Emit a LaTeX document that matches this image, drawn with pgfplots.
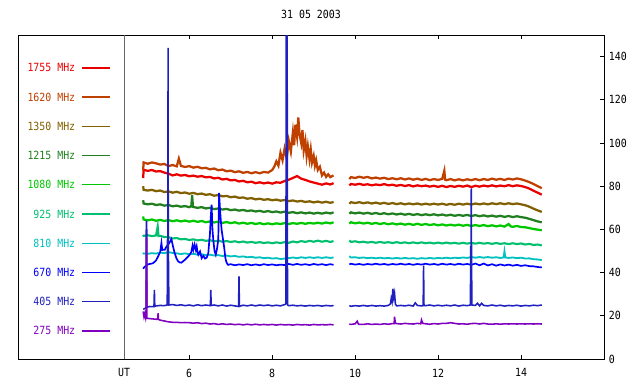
\documentclass[border=0pt]{standalone}
\usepackage{pgfplots}
\pgfplotsset{compat=1.18}
\usepackage{fontspec}
\setmainfont[FakeStretch=0.88]{DejaVu Sans Mono}
\definecolor{cA}{RGB}{235,0,0}
\definecolor{cB}{RGB}{192,64,0}
\definecolor{cC}{RGB}{128,96,0}
\definecolor{cD}{RGB}{32,128,32}
\definecolor{cE}{RGB}{0,200,0}
\definecolor{cF}{RGB}{0,192,112}
\definecolor{cG}{RGB}{0,192,192}
\definecolor{cH}{RGB}{0,0,255}
\definecolor{cI}{RGB}{32,32,192}
\definecolor{cJ}{RGB}{128,0,192}
\begin{document}
\begin{tikzpicture}
\useasboundingbox (0,0) rectangle (16cm,9.6cm);
\begin{axis}[
  at={(0.45cm,0.625cm)}, anchor=south west,
  width=14.65cm, height=8.1cm, scale only axis,
  xmin=1.872, xmax=16, ymin=0, ymax=150,
  unbounded coords=jump,
  font=\fontsize{8}{9}\selectfont,
  title={31 05 2003},
  title style={anchor=center, yshift=0.3cm, font=\fontsize{8}{9}\selectfont},
  xtick={6,8,10,12,14}, xticklabels={6,8,10,12,14},
  extra x ticks={4.43}, extra x tick labels={UT},
  extra x tick style={grid=major, major grid style={draw=black!60, line width=0.7pt}, major tick length=0pt},
  xticklabel style={yshift=-0.12cm},
  ytick={0,20,40,60,80,100,120,140},
  ytick pos=right, yticklabel pos=right,
  /pgf/number format/assume math mode=true,
  tick align=inside, major tick length=0.11cm,
  every tick/.style={black, line width=0.7pt},
  axis line style={line width=0.7pt},
  tick label style={font=\fontsize{8}{9}\selectfont},
  legend style={at={(axis cs:4.106,137.5)}, anchor=north east, draw=none, fill=none,
    inner sep=0pt, outer sep=0pt, row sep=0.397cm, column sep=0.12cm,
    nodes={inner sep=1pt, text height=6pt, text depth=1.5pt, font=\fontsize{8}{9}\selectfont}},
  legend plot pos=right, legend cell align=right,
  legend image code/.code={\draw[#1, line width=0.9pt] (0cm,0.02cm) -- (0.7cm,0.02cm);},
]
% 1755 MHz
\addplot[cA, line width=1.6pt] coordinates {
(4.89,83.8)(4.9,87.6)(5.0,87.1)(5.1,87.5)(5.2,86.8)(5.3,87.0)(5.4,86.3)(5.5,85.8)(5.6,85.0)(5.7,85.5)(5.8,84.9)(5.9,85.2)(6.0,84.6)(6.1,84.9)(6.2,84.4)(6.3,84.7)(6.4,84.1)(6.5,84.3)(6.6,83.6)(6.7,83.9)(6.8,83.1)(6.9,83.4)(7.0,82.7)(7.1,82.9)(7.2,82.2)(7.3,82.5)(7.4,81.8)(7.5,82.1)(7.6,81.4)(7.7,81.8)(7.8,81.3)(7.9,81.7)(8.0,81.2)(8.1,81.8)(8.2,81.6)(8.3,82.4)(8.4,83.0)(8.5,83.8)(8.6,84.7)(8.7,83.5)(8.8,82.9)(8.9,82.2)(9.0,81.7)(9.1,81.2)(9.2,80.7)(9.3,81.3)(9.4,80.8)(9.48,81.4)
(9.65,nan)
(9.86,80.4)(9.9,81.0)(10.0,80.7)(10.1,81.1)(10.2,80.6)(10.3,80.9)(10.4,80.4)(10.5,80.8)(10.6,80.5)(10.7,81.0)(10.8,80.4)(10.9,80.7)(11.0,80.2)(11.1,80.6)(11.2,80.1)(11.3,80.5)(11.4,79.9)(11.5,80.4)(11.6,80.0)(11.7,80.3)(11.8,79.8)(11.9,80.2)(12.0,79.7)(12.1,80.2)(12.2,79.6)(12.3,80.1)(12.4,79.7)(12.5,80.2)(12.6,79.8)(12.7,80.3)(12.8,79.6)(12.9,80.2)(13.0,79.8)(13.1,80.3)(13.2,79.9)(13.3,80.4)(13.4,79.9)(13.5,80.3)(13.6,80.0)(13.7,80.5)(13.8,80.0)(13.9,80.4)(14.0,80.1)(14.1,79.6)(14.2,78.9)(14.3,77.9)(14.4,77.0)(14.5,76.1)
};
\addlegendentry{\textcolor{cA}{1755 MHz}}
% 1620 MHz
\addplot[cB, line width=1.6pt] coordinates {
(4.89,87.5)(4.9,91.0)(5.0,90.4)(5.1,91.0)(5.2,90.6)(5.3,90.0)(5.4,90.3)(5.5,89.3)(5.6,89.8)(5.7,89.2)(5.75,92.8)(5.8,89.4)(5.9,88.9)(6.0,89.3)(6.1,88.6)(6.2,89.0)(6.3,88.3)(6.4,88.5)(6.5,87.8)(6.6,88.2)(6.7,87.4)(6.8,87.7)(6.9,86.9)(7.0,87.2)(7.1,86.5)(7.2,86.9)(7.3,86.2)(7.4,86.6)(7.5,86.0)(7.6,86.5)(7.7,86.0)(7.8,86.6)(7.9,86.3)(8.0,87.5)(8.05,89.0)(8.1,91.5)(8.15,89.5)(8.2,95.5)(8.25,92.0)(8.3,97.5)(8.35,93.0)(8.4,101.0)(8.45,96.0)(8.5,105.0)(8.53,99.0)(8.56,108.5)(8.6,103.0)(8.63,111.8)(8.66,104.0)(8.7,100.0)(8.73,106.0)(8.76,96.5)(8.8,101.0)(8.83,94.0)(8.86,98.5)(8.9,92.5)(8.93,97.0)(8.96,91.0)(9.0,94.0)(9.03,89.5)(9.06,92.0)(9.1,87.5)(9.15,89.0)(9.2,85.0)(9.25,86.3)(9.3,84.3)(9.35,85.5)(9.4,84.2)(9.48,85.0)
(9.65,nan)
(9.86,83.3)(9.9,84.2)(10.0,83.8)(10.1,84.4)(10.2,83.9)(10.3,84.3)(10.4,83.6)(10.5,84.0)(10.6,83.5)(10.7,83.9)(10.8,83.3)(10.9,83.7)(11.0,83.2)(11.1,83.7)(11.2,83.1)(11.3,83.6)(11.4,83.0)(11.5,83.5)(11.6,82.9)(11.7,83.4)(11.8,82.8)(11.9,83.3)(12.0,82.9)(12.1,83.4)(12.15,87.2)(12.17,83.0)(12.2,82.8)(12.3,83.3)(12.4,82.7)(12.5,83.2)(12.6,82.7)(12.7,83.2)(12.8,82.8)(12.9,83.3)(13.0,82.8)(13.1,83.3)(13.2,82.9)(13.3,83.5)(13.4,83.0)(13.5,83.4)(13.6,82.9)(13.7,83.5)(13.8,83.1)(13.9,83.6)(14.0,83.2)(14.1,82.6)(14.2,81.9)(14.3,81.0)(14.4,80.0)(14.5,79.1)
};
\addlegendentry{\textcolor{cB}{1620 MHz}}
% 1350 MHz
\addplot[cC, line width=1.6pt] coordinates {
(4.89,80.0)(4.9,78.3)(5.0,78.0)(5.1,78.3)(5.2,77.7)(5.3,78.0)(5.4,77.3)(5.5,77.6)(5.6,77.0)(5.7,77.4)(5.8,76.8)(5.9,77.1)(6.0,76.5)(6.1,76.9)(6.2,76.3)(6.3,76.6)(6.4,76.0)(6.5,76.3)(6.6,75.6)(6.7,75.9)(6.8,75.3)(6.9,75.5)(7.0,74.9)(7.1,75.2)(7.2,74.6)(7.3,74.8)(7.4,74.2)(7.5,74.5)(7.6,73.9)(7.7,74.2)(7.8,73.7)(7.9,74.0)(8.0,73.5)(8.1,73.8)(8.2,73.3)(8.3,73.6)(8.4,73.1)(8.5,73.4)(8.6,72.9)(8.7,73.2)(8.8,72.7)(8.9,73.0)(9.0,72.5)(9.1,72.9)(9.2,72.4)(9.3,72.8)(9.4,72.3)(9.48,72.7)
(9.65,nan)
(9.86,71.9)(9.9,72.6)(10.0,72.2)(10.1,72.6)(10.2,72.1)(10.3,72.5)(10.4,72.0)(10.5,72.4)(10.6,71.9)(10.7,72.3)(10.8,71.8)(10.9,72.2)(11.0,71.7)(11.1,72.1)(11.2,71.6)(11.3,72.0)(11.4,71.6)(11.5,72.0)(11.6,71.5)(11.7,71.9)(11.8,71.5)(11.9,71.9)(12.0,71.5)(12.1,71.9)(12.2,71.4)(12.3,71.8)(12.4,71.4)(12.5,71.9)(12.6,71.5)(12.7,71.9)(12.8,71.5)(12.9,72.0)(13.0,71.6)(13.1,72.0)(13.2,71.6)(13.3,72.1)(13.4,71.7)(13.5,72.1)(13.6,71.7)(13.7,72.1)(13.8,71.7)(13.9,72.0)(14.0,71.6)(14.1,71.2)(14.2,70.5)(14.3,69.6)(14.4,68.8)(14.5,68.1)
};
\addlegendentry{\textcolor{cC}{1350 MHz}}
% 1215 MHz
\addplot[cD, line width=1.6pt] coordinates {
(4.89,73.5)(4.9,72.0)(5.0,71.6)(5.1,71.9)(5.2,71.3)(5.3,71.6)(5.4,71.0)(5.5,71.3)(5.6,70.7)(5.7,71.0)(5.8,70.5)(5.9,70.8)(6.0,70.3)(6.05,70.7)(6.07,75.8)(6.09,70.4)(6.2,70.0)(6.3,70.3)(6.4,69.7)(6.5,70.0)(6.6,69.4)(6.7,69.7)(6.8,69.2)(6.9,69.5)(7.0,68.9)(7.1,69.2)(7.2,68.7)(7.3,69.0)(7.4,68.5)(7.5,68.8)(7.6,68.3)(7.7,68.6)(7.8,68.1)(7.9,68.5)(8.0,68.0)(8.1,68.3)(8.2,67.8)(8.3,68.2)(8.4,67.7)(8.5,68.0)(8.6,67.5)(8.7,67.9)(8.8,67.4)(8.9,67.8)(9.0,67.3)(9.1,67.7)(9.2,67.3)(9.3,67.8)(9.4,67.4)(9.48,67.9)
(9.65,nan)
(9.86,67.3)(9.9,67.9)(10.0,67.4)(10.1,67.8)(10.2,67.3)(10.3,67.7)(10.4,67.2)(10.5,67.6)(10.6,67.1)(10.7,67.5)(10.8,67.0)(10.9,67.4)(11.0,66.9)(11.1,67.3)(11.2,66.8)(11.3,67.2)(11.4,66.7)(11.5,67.1)(11.6,66.6)(11.7,67.0)(11.8,66.6)(11.9,67.0)(12.0,66.5)(12.1,66.9)(12.2,66.4)(12.3,66.8)(12.4,66.3)(12.5,66.7)(12.6,66.3)(12.7,66.7)(12.8,66.2)(12.9,66.6)(13.0,66.1)(13.1,66.5)(13.2,66.0)(13.3,66.4)(13.4,65.9)(13.5,66.3)(13.6,65.8)(13.7,66.2)(13.8,65.7)(13.9,66.1)(14.0,65.7)(14.1,65.4)(14.2,64.9)(14.3,64.3)(14.4,63.7)(14.5,63.3)
};
\addlegendentry{\textcolor{cD}{1215 MHz}}
% 1080 MHz
\addplot[cE, line width=1.6pt] coordinates {
(4.89,66.0)(4.9,64.6)(5.0,64.2)(5.1,64.6)(5.2,64.0)(5.3,64.4)(5.4,63.9)(5.5,64.3)(5.6,63.8)(5.7,64.2)(5.8,63.7)(5.9,64.1)(6.0,63.6)(6.1,64.0)(6.2,63.5)(6.3,63.9)(6.4,63.3)(6.5,63.7)(6.6,63.2)(6.7,63.6)(6.8,63.0)(6.9,63.4)(7.0,62.9)(7.1,63.3)(7.2,62.7)(7.3,63.1)(7.4,62.6)(7.5,63.0)(7.6,62.5)(7.7,62.9)(7.8,62.4)(7.9,62.8)(8.0,62.4)(8.1,62.8)(8.2,62.5)(8.3,62.9)(8.4,62.5)(8.5,62.9)(8.6,62.6)(8.7,63.0)(8.8,62.6)(8.9,63.0)(9.0,62.7)(9.1,63.1)(9.2,62.7)(9.3,63.2)(9.4,62.8)(9.48,63.3)
(9.65,nan)
(9.86,62.7)(9.9,63.3)(10.0,62.8)(10.1,63.2)(10.2,62.7)(10.3,63.1)(10.4,62.6)(10.5,63.0)(10.6,62.5)(10.7,62.9)(10.8,62.4)(10.9,62.8)(11.0,62.3)(11.1,62.7)(11.2,62.2)(11.3,62.6)(11.4,62.1)(11.5,62.6)(11.6,62.1)(11.7,62.5)(11.8,62.0)(11.9,62.4)(12.0,61.9)(12.1,62.3)(12.2,61.8)(12.3,62.2)(12.4,61.8)(12.5,62.2)(12.6,61.7)(12.7,62.1)(12.8,61.6)(12.9,62.0)(13.0,61.6)(13.1,62.0)(13.2,61.5)(13.3,61.9)(13.4,61.4)(13.5,61.8)(13.6,61.3)(13.7,62.5)(13.75,61.4)(13.8,61.2)(13.9,61.6)(14.0,61.1)(14.1,61.0)(14.2,60.6)(14.3,60.2)(14.4,59.9)(14.5,59.6)
};
\addlegendentry{\textcolor{cE}{1080 MHz}}
% 925 MHz
\addplot[cF, line width=1.5pt] coordinates {
(4.89,57.5)(4.9,57.0)(5.0,57.3)(5.1,56.9)(5.2,57.2)(5.24,61.3)(5.26,56.9)(5.3,57.0)(5.4,56.5)(5.5,56.4)(5.6,55.8)(5.7,56.0)(5.8,55.4)(5.9,55.6)(6.0,55.1)(6.1,55.4)(6.2,54.9)(6.3,55.2)(6.4,54.7)(6.5,55.0)(6.6,54.5)(6.7,54.8)(6.8,54.3)(6.9,54.6)(7.0,54.2)(7.1,54.5)(7.2,54.0)(7.3,54.4)(7.4,53.9)(7.5,54.2)(7.6,53.8)(7.7,54.1)(7.8,53.7)(7.9,54.0)(8.0,53.6)(8.1,54.0)(8.2,53.7)(8.3,54.1)(8.4,53.8)(8.5,54.4)(8.6,54.0)(8.7,54.6)(8.8,54.2)(8.9,54.7)(9.0,54.3)(9.1,54.8)(9.2,54.3)(9.3,54.7)(9.4,54.2)(9.48,54.6)
(9.65,nan)
(9.86,54.9)(9.9,54.2)(10.0,54.5)(10.1,54.0)(10.2,54.3)(10.3,53.9)(10.4,54.2)(10.5,53.8)(10.6,54.2)(10.7,53.8)(10.8,54.1)(10.9,53.7)(11.0,54.1)(11.1,53.7)(11.2,54.0)(11.3,53.6)(11.4,54.0)(11.5,53.6)(11.6,54.0)(11.7,53.6)(11.8,53.9)(11.9,53.5)(12.0,53.9)(12.1,53.5)(12.2,53.9)(12.3,53.5)(12.4,53.8)(12.5,53.4)(12.6,53.8)(12.7,53.4)(12.8,53.8)(12.9,53.4)(13.0,53.8)(13.1,53.4)(13.2,53.7)(13.3,53.3)(13.4,53.7)(13.5,53.3)(13.6,53.6)(13.7,53.2)(13.8,53.6)(13.9,53.2)(14.0,53.5)(14.1,53.0)(14.2,53.3)(14.3,52.8)(14.4,53.0)(14.5,52.6)
};
\addlegendentry{\textcolor{cF}{925 MHz}}
% 810 MHz
\addplot[cG, line width=1.3pt] coordinates {
(4.89,48.5)(4.9,48.9)(5.0,48.7)(5.1,49.0)(5.2,48.8)(5.3,49.3)(5.4,49.0)(5.5,49.5)(5.6,49.1)(5.7,48.9)(5.8,48.6)(5.9,48.9)(6.0,48.5)(6.1,48.7)(6.2,48.3)(6.3,48.5)(6.4,48.1)(6.5,48.3)(6.6,47.9)(6.7,48.1)(6.8,47.7)(6.9,47.9)(7.0,47.5)(7.1,47.7)(7.2,47.3)(7.3,47.5)(7.4,47.1)(7.5,47.3)(7.6,46.9)(7.7,47.1)(7.8,46.7)(7.9,46.9)(8.0,46.5)(8.1,46.7)(8.2,46.3)(8.3,46.5)(8.4,46.7)(8.5,47.0)(8.6,46.7)(8.7,47.1)(8.8,46.8)(8.9,47.1)(9.0,46.8)(9.1,47.1)(9.2,46.8)(9.3,47.1)(9.4,46.8)(9.48,47.0)
(9.65,nan)
(9.86,47.6)(9.9,47.0)(10.0,47.1)(10.1,46.8)(10.2,47.0)(10.3,46.7)(10.4,46.9)(10.5,46.6)(10.6,46.9)(10.7,46.6)(10.8,46.8)(10.9,46.5)(11.0,46.8)(11.1,46.5)(11.2,46.8)(11.3,46.5)(11.4,46.7)(11.5,46.4)(11.6,46.7)(11.7,46.5)(11.8,46.8)(11.9,46.5)(12.0,46.8)(12.1,46.6)(12.2,46.9)(12.3,46.6)(12.4,46.9)(12.5,46.7)(12.6,47.0)(12.7,46.8)(12.8,47.2)(12.9,46.9)(13.0,47.2)(13.1,46.9)(13.2,47.2)(13.3,46.9)(13.4,47.1)(13.5,46.8)(13.58,47.0)(13.6,49.8)(13.62,47.0)(13.7,46.8)(13.8,47.0)(13.9,46.7)(14.0,46.9)(14.1,46.5)(14.2,46.6)(14.3,46.2)(14.4,46.1)(14.5,45.8)
};
\addlegendentry{\textcolor{cG}{810 MHz}}
% 670 MHz
\addplot[cH, line width=1.2pt] coordinates {
(4.89,41.8)(4.92,42.6)(5.0,43.8)(5.1,44.2)(5.13,44.4)(5.2,45.6)(5.25,47.5)(5.3,49.5)(5.33,53.7)(5.35,50.5)(5.41,50.6)(5.45,52.0)(5.49,52.9)(5.53,54.0)(5.57,55.5)(5.61,52.1)(5.65,49.0)(5.69,46.7)(5.73,45.3)(5.77,44.7)(5.81,44.6)(5.85,45.2)(5.9,46.0)(5.95,47.0)(6.0,48.0)(6.05,49.5)(6.08,52.5)(6.1,50.6)(6.13,53.0)(6.16,50.5)(6.18,52.1)(6.2,49.5)(6.22,48.3)(6.26,49.8)(6.3,46.7)(6.34,47.8)(6.38,46.5)(6.42,46.9)(6.46,49.0)(6.48,53.7)(6.5,58.0)(6.52,66.0)(6.54,71.5)(6.56,60.0)(6.58,55.2)(6.61,50.0)(6.64,48.3)(6.67,51.0)(6.70,55.2)(6.71,65.0)(6.72,76.9)(6.74,70.0)(6.76,64.5)(6.78,60.0)(6.81,56.0)(6.84,52.1)(6.87,47.0)(6.89,45.2)(6.92,44.0)(6.94,43.6)(7.0,43.9)(7.1,43.4)(7.2,43.8)(7.3,43.5)(7.4,43.9)(7.5,43.4)(7.6,43.8)(7.7,43.4)(7.8,43.9)(7.9,43.5)(8.0,43.8)(8.1,43.4)(8.2,43.7)(8.3,43.5)(8.4,44.0)(8.5,43.6)(8.6,44.0)(8.7,43.6)(8.8,43.9)(8.9,43.5)(9.0,44.0)(9.1,43.6)(9.2,43.9)(9.3,43.5)(9.4,43.9)(9.48,43.6)
(9.65,nan)
(9.86,43.8)(9.9,44.1)(10.0,43.7)(10.1,44.0)(10.2,43.6)(10.3,44.0)(10.4,43.7)(10.5,44.1)(10.6,43.7)(10.7,44.0)(10.8,43.6)(10.9,44.0)(11.0,43.7)(11.1,44.1)(11.2,43.7)(11.3,44.0)(11.4,43.6)(11.5,44.0)(11.6,43.7)(11.7,44.1)(11.8,43.7)(11.9,44.0)(12.0,43.6)(12.1,44.1)(12.2,43.7)(12.3,44.0)(12.4,43.6)(12.5,44.1)(12.6,43.7)(12.7,44.0)(12.8,43.6)(12.9,44.2)(13.0,43.4)(13.1,44.2)(13.2,43.3)(13.3,43.9)(13.4,43.2)(13.5,43.8)(13.6,43.3)(13.7,43.7)(13.8,43.2)(13.9,43.6)(14.0,43.1)(14.1,43.4)(14.2,43.0)(14.3,42.9)(14.4,42.6)(14.5,42.4)
};
\addlegendentry{\textcolor{cH}{670 MHz}}
% 405 MHz
\addplot[cI, line width=1.1pt] coordinates {
(4.89,23.0)(4.93,23.4)(4.96,23.8)(4.965,63.7)(4.975,63.7)(4.98,24.0)(5.05,24.3)(5.15,24.2)(5.16,32.0)(5.17,24.5)(5.3,24.8)(5.4,24.7)(5.47,25.0)(5.475,55.0)(5.485,55.0)(5.49,144.0)(5.495,55.0)(5.51,25.0)(5.6,25.2)(5.7,24.8)(5.8,25.1)(5.9,24.7)(6.0,25.0)(6.1,24.6)(6.2,25.1)(6.3,24.7)(6.4,25.0)(6.51,24.7)(6.52,32.0)(6.53,24.8)(6.6,25.0)(6.7,24.6)(6.8,25.0)(6.9,24.5)(7.0,24.9)(7.1,24.6)(7.19,24.3)(7.20,38.2)(7.21,24.4)(7.3,24.9)(7.4,24.6)(7.5,25.0)(7.6,24.6)(7.7,25.0)(7.8,24.7)(7.9,25.0)(8.0,24.6)(8.1,24.9)(8.2,24.6)(8.3,25.2)(8.33,25.5)(8.34,160)(8.36,160)(8.37,25.0)(8.4,24.7)(8.5,24.9)(8.6,24.6)(8.7,24.8)(8.8,24.5)(8.9,24.8)(9.0,24.6)(9.1,24.8)(9.2,24.5)(9.3,24.8)(9.4,24.6)(9.48,24.7)
(9.65,nan)
(9.86,24.7)(9.9,24.4)(10.0,24.7)(10.1,24.5)(10.2,24.8)(10.3,24.5)(10.4,24.8)(10.5,24.5)(10.6,24.7)(10.7,24.5)(10.8,24.8)(10.85,25.5)(10.87,28.0)(10.89,26.5)(10.91,32.5)(10.93,28.5)(10.95,30.5)(10.97,25.5)(11.0,24.6)(11.1,24.8)(11.2,24.6)(11.3,24.9)(11.4,24.5)(11.45,26.0)(11.5,24.8)(11.6,24.6)(11.64,24.7)(11.65,43.2)(11.66,24.8)(11.7,24.7)(11.8,25.0)(11.9,24.6)(12.0,24.9)(12.1,24.6)(12.2,24.9)(12.3,24.6)(12.4,25.0)(12.5,24.5)(12.6,24.9)(12.7,24.7)(12.78,25.0)(12.785,52.0)(12.795,52.0)(12.80,79.0)(12.805,52.0)(12.815,25.0)(12.9,24.8)(12.95,25.8)(13.0,24.6)(13.05,25.8)(13.1,24.8)(13.2,24.6)(13.3,25.0)(13.4,24.6)(13.5,24.9)(13.6,24.5)(13.7,24.8)(13.8,24.6)(13.9,24.9)(14.0,24.5)(14.1,24.8)(14.2,24.6)(14.3,24.9)(14.4,24.7)(14.5,25.0)
};
\addlegendentry{\textcolor{cI}{405 MHz}}
% 275 MHz
\addplot[cJ, line width=1.1pt] coordinates {
(4.89,22.0)(4.91,19.5)(4.93,21.0)(4.95,19.0)(4.96,20.5)(4.97,56.0)(4.98,19.0)(5.0,18.8)(5.1,18.6)(5.2,18.4)(5.24,18.4)(5.25,21.2)(5.26,18.3)(5.3,18.0)(5.4,17.6)(5.5,17.2)(5.6,17.0)(5.7,17.0)(5.8,16.8)(5.9,16.9)(6.0,16.8)(6.1,16.6)(6.2,16.8)(6.3,16.4)(6.4,16.6)(6.5,16.2)(6.6,16.4)(6.7,16.0)(6.8,16.3)(6.9,16.0)(7.0,16.2)(7.1,15.9)(7.2,16.1)(7.3,15.8)(7.4,16.1)(7.5,15.8)(7.6,16.1)(7.7,15.8)(7.8,16.0)(7.9,15.8)(8.0,16.0)(8.1,15.7)(8.2,16.0)(8.3,15.8)(8.4,15.9)(8.5,15.7)(8.6,16.0)(8.7,15.8)(8.8,15.9)(8.9,15.7)(9.0,16.0)(9.1,15.8)(9.2,15.9)(9.3,15.8)(9.4,16.0)(9.48,15.8)
(9.65,nan)
(9.86,16.2)(9.9,16.0)(10.0,16.3)(10.05,17.5)(10.08,16.1)(10.2,16.0)(10.3,16.3)(10.4,16.0)(10.5,16.2)(10.6,16.0)(10.7,16.3)(10.8,16.1)(10.9,16.4)(10.94,16.4)(10.95,19.6)(10.97,16.5)(11.0,16.4)(11.1,16.2)(11.2,16.5)(11.3,16.3)(11.4,16.2)(11.5,16.5)(11.58,16.3)(11.6,18.1)(11.63,16.5)(11.7,16.3)(11.8,16.1)(11.9,16.4)(12.0,16.2)(12.1,16.5)(12.2,16.5)(12.3,16.8)(12.4,16.5)(12.5,16.2)(12.6,16.3)(12.7,16.1)(12.8,16.4)(12.9,16.5)(13.0,16.2)(13.1,16.5)(13.2,16.2)(13.3,16.1)(13.4,16.3)(13.5,16.1)(13.6,16.3)(13.7,16.2)(13.8,16.3)(13.9,16.2)(14.0,16.3)(14.1,16.2)(14.2,16.3)(14.3,16.2)(14.4,16.3)(14.5,16.2)
};
\addlegendentry{\textcolor{cJ}{275 MHz}}
\end{axis}
\end{tikzpicture}
\end{document}
